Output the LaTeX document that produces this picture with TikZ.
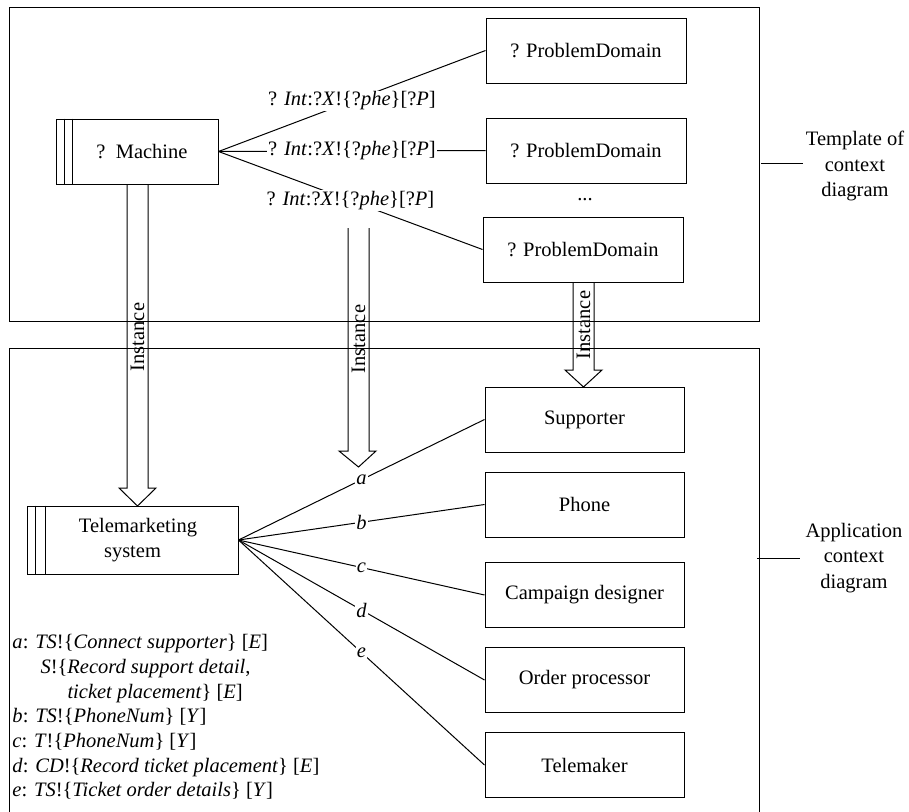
\documentclass[tikz,border=0pt]{standalone}
\usepackage{fontspec}
\setmainfont{LiberationSerif}[Extension=.ttf,UprightFont=*-Regular,ItalicFont=*-Italic,BoldFont=*-Bold,BoldItalicFont=*-BoldItalic]
\begin{document}
\begin{tikzpicture}[x=1pt,y=-1pt,line width=1pt,
  font=\fontsize{20.5}{25}\selectfont,
  box/.style={draw,minimum width=200pt,minimum height=65pt,inner sep=0pt},
  mbox/.style={draw,inner sep=0pt,align=center},
  lab/.style={midway,fill=white,inner sep=1pt},
  letter/.style={midway,fill=white,inner sep=1pt,font=\fontsize{20.5}{25}\selectfont\itshape},
  legend/.style={anchor=base west,inner sep=0pt},
  side/.style={align=center,inner sep=0pt,font=\fontsize{20.5}{25.5}\selectfont}]
\useasboundingbox (0,0) rectangle (909,811);

% frames
\draw (9,7) rectangle (759,321);
\draw (9,812) -- (9,348) -- (759,348) -- (759,812);

% side labels
\node[side] (tpl) at (855,166) {Template of\\context\\diagram};
\coordinate (tl) at (761,163);
\draw (tl) -- ++(42,0);
\node[side] (app) at (854,558) {Application\\context\\diagram};
\coordinate (al) at (757,558);
\draw (al) -- ++(43,0);

% template part
\node[mbox,minimum width=162pt,minimum height=65pt] (mach) at (137,151.5) {\hspace*{10pt}?\ \ Machine};
\draw ([xshift=9pt]mach.north west) -- ([xshift=9pt]mach.south west);
\draw ([xshift=17pt]mach.north west) -- ([xshift=17pt]mach.south west);

\node[box] (pd1) at (586,50.5) {? ProblemDomain};
\node[box] (pd2) at (586,150.5) {? ProblemDomain};
\node[box] (pd3) at (583,249.5) {? ProblemDomain};
\node (dots) at (585,200) {...};

\newcommand\intlab{? \textit{Int}:?\textit{X}!\{?\textit{phe}\}[?\textit{P}]}
\draw (mach.east) -- node[lab] (t1) {\intlab} (pd1.west);
\draw (mach.east) -- node[lab] (t2) {\intlab} (pd2.west);
\draw (mach.east) -- node[lab] (t3) {\intlab} (pd3.west);

% application part
\node[mbox,minimum width=211pt,minimum height=68pt] (tele) at (132.5,540) {\hspace*{11pt}Telemarketing\\system};
\draw ([xshift=9pt]tele.north west) -- ([xshift=9pt]tele.south west);
\draw ([xshift=19pt]tele.north west) -- ([xshift=19pt]tele.south west);

\node[box,minimum width=199pt] (sup) at (584.5,419.5) {Supporter};
\node[box,minimum width=199pt] (pho) at (584.5,504.5) {Phone};
\node[box,minimum width=199pt] (cam) at (584.5,595) {Campaign designer};
\node[box,minimum width=199pt] (ord) at (584.5,680) {Order processor};
\node[box,minimum width=199pt] (tmk) at (584.5,765) {Telemaker};

\draw (tele.east) -- node[letter] (la) {a} (sup.west);
\draw (tele.east) -- node[letter] (lb) {b} (pho.west);
\draw (tele.east) -- node[letter] (lc) {c} (cam.west);
\draw (tele.east) -- node[letter] (ld) {d} (ord.west);
\draw (tele.east) -- node[letter] (le) {e} (tmk.west);

% instance arrows
\draw (127,184) -- (127,488) -- (119,488) -- (137.5,506) -- (156,488) -- (148,488) -- (148,184);
\node[rotate=90,inner sep=0pt] (i1) at (137.5,337) {Instance};
\draw (348,228) -- (348,451) -- (339,451) -- (358.5,467) -- (376,451) -- (369,451) -- (369,228);
\node[rotate=90,inner sep=0pt] (i2) at (358.5,339) {Instance};
\draw (573,282) -- (573,370) -- (565,370) -- (583.5,387) -- (602,370) -- (594,370) -- (594,282);
\node[rotate=90,inner sep=0pt] (i3) at (583.5,325) {Instance};

% legend
\node[legend] (g1) at (12,648) {\textit{a}: \textit{TS}!\{\textit{Connect supporter}\} [\textit{E}]};
\node[legend] (g2) at (40,673) {\textit{S}!\{\textit{Record support detail},};
\node[legend] (g3) at (67,698) {\textit{ticket placement}\} [\textit{E}]};
\node[legend] (g4) at (12,722) {\textit{b}: \textit{TS}!\{\textit{PhoneNum}\} [\textit{Y}]};
\node[legend] (g5) at (12,747) {\textit{c}: \textit{T}!\{\textit{PhoneNum}\} [\textit{Y}]};
\node[legend] (g6) at (12,772) {\textit{d}: \textit{CD}!\{\textit{Record ticket placement}\} [\textit{E}]};
\node[legend] (g7) at (12,796) {\textit{e}: \textit{TS}!\{\textit{Ticket order details}\} [\textit{Y}]};
\end{tikzpicture}
\end{document}
